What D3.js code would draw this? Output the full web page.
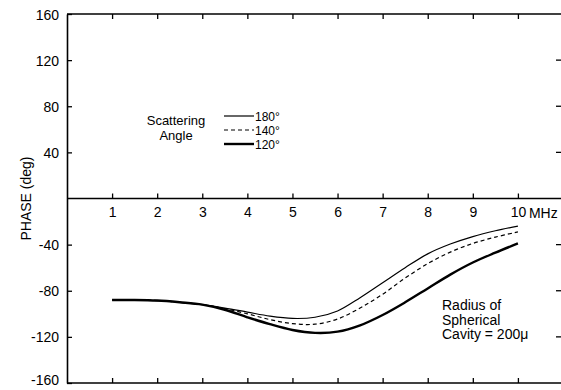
<!DOCTYPE html>
<html><head><meta charset="UTF-8">
<script src="https://d3js.org/d3.v7.min.js"></script>
<style>
  body { margin: 0; background: #fff; }
  text { font-family: "Liberation Sans", Arial, sans-serif; fill: #000; }
</style>
</head>
<body>
<script>
"use strict";
// frequency (MHz) and phase (deg)
let freq = [1, 1.5, 2, 2.5, 3, 3.5, 4, 4.5, 5, 5.5, 6, 6.5, 7, 7.5, 8, 8.5, 9, 9.5, 10];
let phase180 = [-88, -88, -88.5, -90, -92, -95, -98.5, -102, -104, -103, -97.5, -86, -73, -60, -48, -39.5, -33, -28, -24];
let phase140 = [-88, -88, -88.5, -90, -92, -95.5, -100, -105, -108.5, -109, -104.5, -95, -83, -69, -56.5, -46.5, -39, -33.5, -29];
let phase120 = [-88, -88, -88.5, -90, -92, -96.5, -103, -109, -114, -116.5, -115.5, -110, -101, -90, -78, -66, -55.5, -47, -39];
let xTicks = [1, 2, 3, 4, 5, 6, 7, 8, 9, 10];
let yTicks = [-160, -120, -80, -40, 40, 80, 120, 160];
let series = [
  {label: "180°", values: phase180, width: 1.2, dash: null},
  {label: "140°", values: phase140, width: 1.2, dash: "4,3"},
  {label: "120°", values: phase120, width: 2.4, dash: null}
];

let W = 561, H = 390;
let svg = d3.select("body").append("svg").attr("width", W).attr("height", H);

let x = d3.scaleLinear().domain([0, 11]).range([67, 563]);
let y = d3.scaleLinear().domain([-160, 160]).range([383, 14]);

// left axis, ticks pointing in
let leftAxis = svg.append("g").attr("transform", "translate(67,0)")
  .call(d3.axisLeft(y).tickValues(yTicks).tickSizeInner(-5).tickSizeOuter(0)
    .tickPadding(8).tickFormat(d => String(d)));
leftAxis.select(".domain").attr("stroke-width", 1.6);
leftAxis.selectAll(".tick text").style("font-size", "14px").attr("dy", "0.36em");
leftAxis.selectAll(".tick text").filter(d => d === -160).attr("dy", "0.1em");

// right side ticks only (frame edge is cut off)
svg.append("g").selectAll("line").data(yTicks.filter(d => Math.abs(d) < 160)).join("line")
  .attr("x1", 556).attr("x2", 561).attr("y1", d => y(d)).attr("y2", d => y(d))
  .attr("stroke", "#000").attr("stroke-width", 1.3);

// top frame
let topAxis = svg.append("g").attr("transform", `translate(0,${y(160)})`)
  .call(d3.axisTop(x).tickValues(xTicks).tickSizeInner(-5).tickSizeOuter(0).tickFormat(""));
topAxis.select(".domain").attr("d", "M67,0H561").attr("stroke-width", 1.6);

// bottom frame
let bottomAxis = svg.append("g").attr("transform", `translate(0,${y(-160)})`)
  .call(d3.axisBottom(x).tickValues(xTicks).tickSizeInner(-5).tickSizeOuter(0).tickFormat(""));
bottomAxis.select(".domain").attr("d", "M67,0H561").attr("stroke-width", 1.6);

// zero line with frequency labels
let zeroAxis = svg.append("g").attr("transform", `translate(0,${y(0)})`)
  .call(d3.axisBottom(x).tickValues(xTicks).tickSizeInner(-5).tickSizeOuter(0)
    .tickPadding(9).tickFormat(d => String(d)));
zeroAxis.select(".domain").attr("d", "M67,0H561").attr("stroke-width", 1.4);
zeroAxis.selectAll(".tick text").style("font-size", "14px");
svg.selectAll(".tick line").attr("stroke-width", 1.3);
svg.append("text").attr("x", x(10) + 11).attr("y", y(0) + 19)
  .style("font-size", "14px").text("MHz");

// y title
svg.append("text").attr("transform", `translate(31,${y(0)}) rotate(-90)`)
  .attr("text-anchor", "middle").style("font-size", "14px").text("PHASE  (deg)");

// curves
let line = d3.line().curve(d3.curveCatmullRom.alpha(0.5))
  .x((d, i) => x(freq[i])).y(d => y(d));
svg.append("g").selectAll("path").data(series).join("path")
  .attr("d", s => line(s.values))
  .attr("fill", "none").attr("stroke", "#000")
  .attr("stroke-width", s => s.width)
  .attr("stroke-dasharray", s => s.dash);

// legend
let leg = svg.append("g");
leg.append("text").attr("x", 176).attr("y", 125).attr("text-anchor", "middle")
  .style("font-size", "13px").text("Scattering");
leg.append("text").attr("x", 176).attr("y", 140).attr("text-anchor", "middle")
  .style("font-size", "13px").text("Angle");
series.forEach((s, i) => {
  let ly = 116 + i * 14;
  leg.append("line").attr("x1", 224).attr("x2", 254).attr("y1", ly).attr("y2", ly)
    .attr("stroke", "#000").attr("stroke-width", s.width).attr("stroke-dasharray", s.dash);
  leg.append("text").attr("x", 255).attr("y", ly + 4.5).style("font-size", "12px").text(s.label);
});

// annotation
let note = ["Radius of", "Spherical", "Cavity = 200\u03bc"];
svg.append("g").selectAll("text").data(note).join("text")
  .attr("x", 442).attr("y", (d, i) => 310 + i * 14.5)
  .style("font-size", "14px").text(d => d);
</script>
</body>
</html>
